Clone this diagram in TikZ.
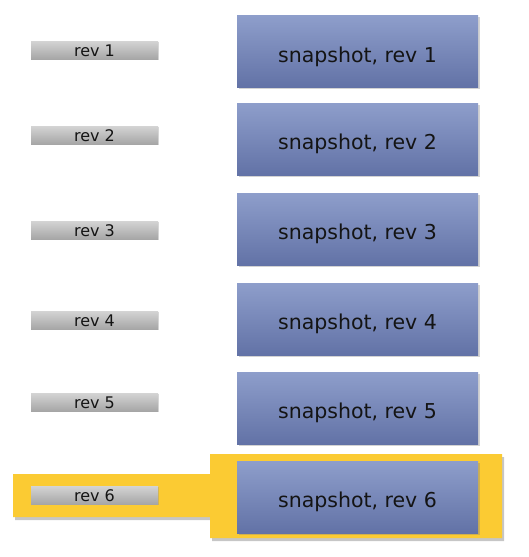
\documentclass[tikz,border=0pt]{standalone}
\usepackage{fontspec}
\setmainfont{DejaVu Sans}
\usetikzlibrary{shadows,positioning}
\definecolor{bluetop}{HTML}{8E9ECB}
\definecolor{bluebot}{HTML}{6272A6}
\definecolor{greytop}{HTML}{D4D4D4}
\definecolor{greybot}{HTML}{A6A6A6}
\definecolor{hiyellow}{HTML}{FBCB33}
\tikzset{
  x=1pt,y=-1pt,
  snapbox/.style={minimum width=241pt, minimum height=72pt, inner sep=0pt,
    text height=21pt, text depth=0pt,
    top color=bluetop, bottom color=bluebot, draw=none,
    drop shadow={shadow xshift=1.5pt,shadow yshift=-1.5pt,opacity=0.35},
    font=\fontsize{20.5}{22}\selectfont, text=black!92},
  revbar/.style={minimum width=127pt, minimum height=18pt, inner sep=0pt,
    text height=13.4pt, text depth=0pt,
    top color=greytop, bottom color=greybot, draw=none,
    drop shadow={shadow xshift=1pt,shadow yshift=-1pt,opacity=0.3},
    font=\fontsize{16}{17}\selectfont, text=black!92},
}
\begin{document}
\begin{tikzpicture}
\useasboundingbox (0,0) rectangle (528,557);
% highlight for rev 6
\fill[hiyellow, drop shadow={shadow xshift=2pt,shadow yshift=-3pt,opacity=0.45}]
  (13,474) -- (210,474) -- (210,454) -- (502,454) -- (502,538) -- (210,538) -- (210,517) -- (13,517) -- cycle;
\foreach \i/\ry/\sy in {1/50/51.5, 2/135/139, 3/230/229, 4/320/319, 5/402/408, 6/495/497}{
  \node[revbar] (rev\i) at (94.5,\ry) {rev \i};
  \node[snapbox] (snap\i) at (357.5,\sy) {snapshot, rev \i};
}
\end{tikzpicture}
\end{document}
